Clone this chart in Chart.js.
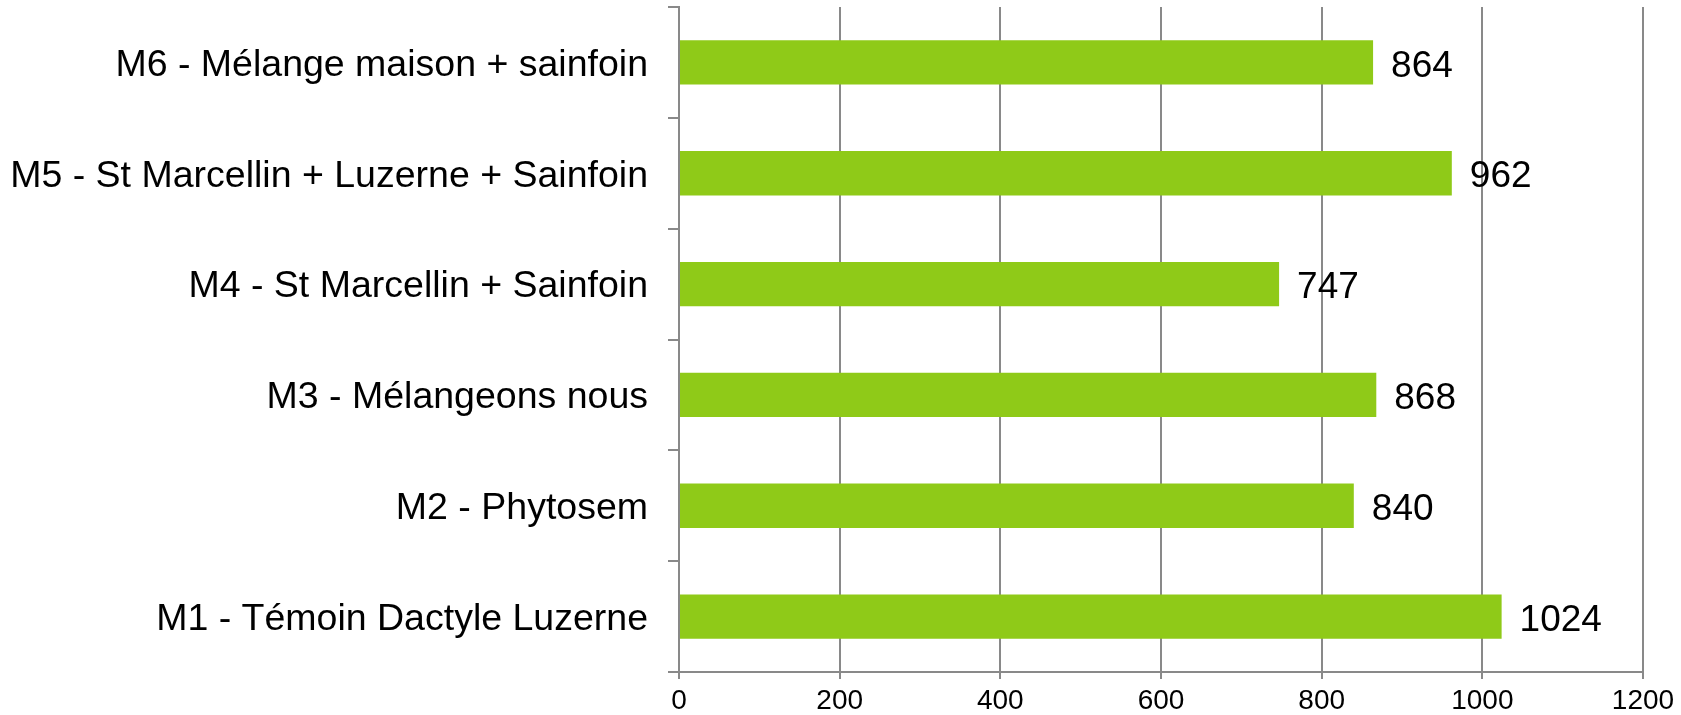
<!DOCTYPE html>
<html>
<head>
<meta charset="utf-8">
<script src="https://cdn.jsdelivr.net/npm/chart.js@4/dist/chart.umd.min.js"></script>
<style>
  html, body { margin: 0; padding: 0; background: #ffffff; }
  #wrap { width: 1681px; height: 715px; }
</style>
</head>
<body>
<div id="wrap"><canvas id="chart" width="1681" height="715"></canvas></div>
<script>
// Categories, top to bottom
const categories = [
  'M6 - Mélange maison + sainfoin',
  'M5 - St Marcellin + Luzerne + Sainfoin',
  'M4 - St Marcellin + Sainfoin',
  'M3 - Mélangeons nous',
  'M2 - Phytosem',
  'M1 - Témoin Dactyle Luzerne'
];
const yieldValues = [864, 962, 747, 868, 840, 1024];
const xTicks = [0, 200, 400, 600, 800, 1000, 1200];

const FONT = '"Liberation Sans", Arial, sans-serif';
const GRID = '#898989';

// Draw the value to the right of each bar
const valueLabels = {
  id: 'valueLabels',
  afterDatasetsDraw(chart) {
    const ctx = chart.ctx;
    const meta = chart.getDatasetMeta(0);
    ctx.save();
    ctx.font = '37px ' + FONT;
    ctx.fillStyle = '#000000';
    ctx.textAlign = 'left';
    ctx.textBaseline = 'middle';
    meta.data.forEach((bar, i) => {
      ctx.fillText(String(yieldValues[i]), bar.x + 18, bar.y + 4);
    });
    ctx.restore();
  }
};

new Chart(document.getElementById('chart'), {
  type: 'bar',
  data: {
    labels: categories,
    datasets: [{
      data: yieldValues,
      backgroundColor: '#8fca18',
      borderWidth: 0,
      barPercentage: 0.4,
      categoryPercentage: 1.0
    }]
  },
  options: {
    indexAxis: 'y',
    responsive: false,
    animation: false,
    layout: { padding: { top: 7, right: 38, left: 0, bottom: 0 } },
    plugins: {
      legend: { display: false },
      tooltip: { enabled: false }
    },
    scales: {
      x: {
        min: 0,
        max: 1200,
        afterBuildTicks: axis => { axis.ticks = xTicks.map(v => ({ value: v })); },
        afterFit: axis => { axis.height = 43; axis.paddingLeft = 0; axis.paddingRight = 0; },
        border: { color: GRID, width: 2 },
        grid: { color: GRID, lineWidth: 2, tickLength: 7 },
        ticks: {
          color: '#000000',
          padding: 5,
          font: { family: FONT, size: 28 },
          callback: v => String(v)
        }
      },
      y: {
        afterFit: axis => { axis.width = 679; axis.paddingTop = 0; axis.paddingBottom = 0; },
        border: { color: GRID, width: 2 },
        grid: { drawOnChartArea: false, color: GRID, lineWidth: 2, tickLength: 11 },
        ticks: {
          color: '#000000',
          padding: 20,
          labelOffset: 3,
          font: { family: FONT, size: 37.5 }
        }
      }
    }
  },
  plugins: [valueLabels]
});
</script>
</body>
</html>
